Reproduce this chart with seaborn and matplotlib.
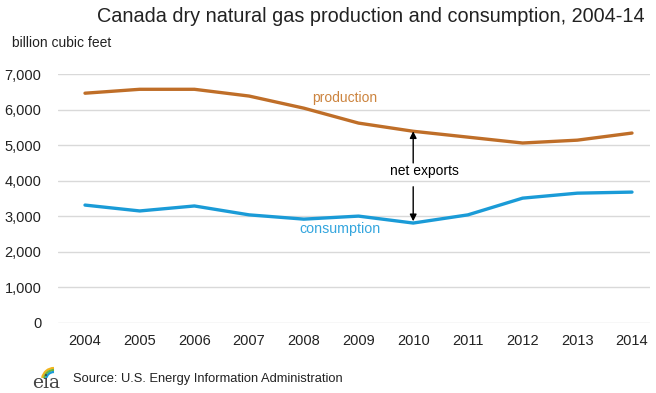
import matplotlib
matplotlib.use("Agg")
import matplotlib.pyplot as plt
import seaborn as sns
import pandas as pd
from matplotlib.patches import Arc

years = [2004, 2005, 2006, 2007, 2008, 2009, 2010, 2011, 2012, 2013, 2014]
production = [6460, 6570, 6570, 6380, 6040, 5620, 5390, 5225, 5060, 5140, 5340]
consumption = [3315, 3150, 3290, 3040, 2920, 3005, 2810, 3040, 3510, 3650, 3680]
yticks = [0, 1000, 2000, 3000, 4000, 5000, 6000, 7000]

sns.set_theme(style="white")
plt.rcParams['font.family'] = ['Liberation Sans', 'DejaVu Sans']

prod_color = "#BF6E28"
cons_color = "#1A9BD7"
prod_label_color = "#CC843F"
cons_label_color = "#35A6DE"

df = pd.DataFrame({"year": years * 2,
                   "value": production + consumption,
                   "series": ["production"] * len(years) + ["consumption"] * len(years)})

fig = plt.figure(figsize=(6.56, 3.93), dpi=100)
ax = fig.add_axes([58/656, (393-323)/393, 592/656, 249/393])
sns.lineplot(data=df, x="year", y="value", hue="series",
             palette={"production": prod_color, "consumption": cons_color},
             linewidth=2.4, ax=ax, legend=False)

ax.set_xlim(2004 - 27/54.7, 2014 + 18/54.7)
ax.set_ylim(0, 7000)
ax.set_yticks(yticks)
ax.set_yticklabels([f"{v:,}" for v in yticks])
ax.set_xticks(years)
ax.set_xticklabels([str(y) for y in years])
ax.tick_params(axis='both', length=0, labelsize=10.5, colors="#222222")
ax.tick_params(axis='y', pad=12)
ax.tick_params(axis='x', pad=8)
ax.set_xlabel("")
ax.set_ylabel("")
for s in ax.spines.values():
    s.set_visible(False)
ax.yaxis.grid(True, color="#D9D9D9", linewidth=1)
ax.xaxis.grid(False)
ax.set_axisbelow(True)

ax.text(2008.75, 6330, "production", color=prod_label_color, fontsize=10, ha="center", va="center")
ax.text(2008.66, 2640, "consumption", color=cons_label_color, fontsize=10.3, ha="center", va="center")
ax.text(2010.2, 4270, "net exports", color="black", fontsize=10, ha="center", va="center")
ax.annotate("", xy=(2010, 5390), xytext=(2010, 4500),
            arrowprops=dict(arrowstyle="-|>", color="black", lw=1, mutation_scale=10, shrinkA=0, shrinkB=0))
ax.annotate("", xy=(2010, 2860), xytext=(2010, 3830),
            arrowprops=dict(arrowstyle="-|>", color="black", lw=1, mutation_scale=10, shrinkA=0, shrinkB=0))

fig.text(645/656, 1 - 16/393, "Canada dry natural gas production and consumption, 2004-14",
         ha="right", va="center", fontsize=14.3, color="#222222")
fig.text(12/656, 1 - 43/393, "billion cubic feet", ha="left", va="center", fontsize=10, color="#222222")
fig.text(73/656, 1 - 379/393, "Source: U.S. Energy Information Administration",
         ha="left", va="center", fontsize=9.3, color="#222222")
fig.text(32/656, 1 - 383/393, "eia", ha="left", va="center", fontsize=13.5,
         family=["DejaVu Serif"], color="#444444")

# small logo arcs
lax = fig.add_axes([36/656, 1 - 378/393, 26/656, 14/393])
lax.set_xlim(0, 26); lax.set_ylim(0, 14); lax.axis("off")
for (r, c) in [(12, "#F2B51D"), (10, "#6BB43F"), (8, "#1A9BD7")]:
    lax.add_patch(Arc((18, -2), 2*r, 2*r, theta1=90, theta2=170, color=c, lw=1.6))

fig.savefig("out.png", dpi=100)
